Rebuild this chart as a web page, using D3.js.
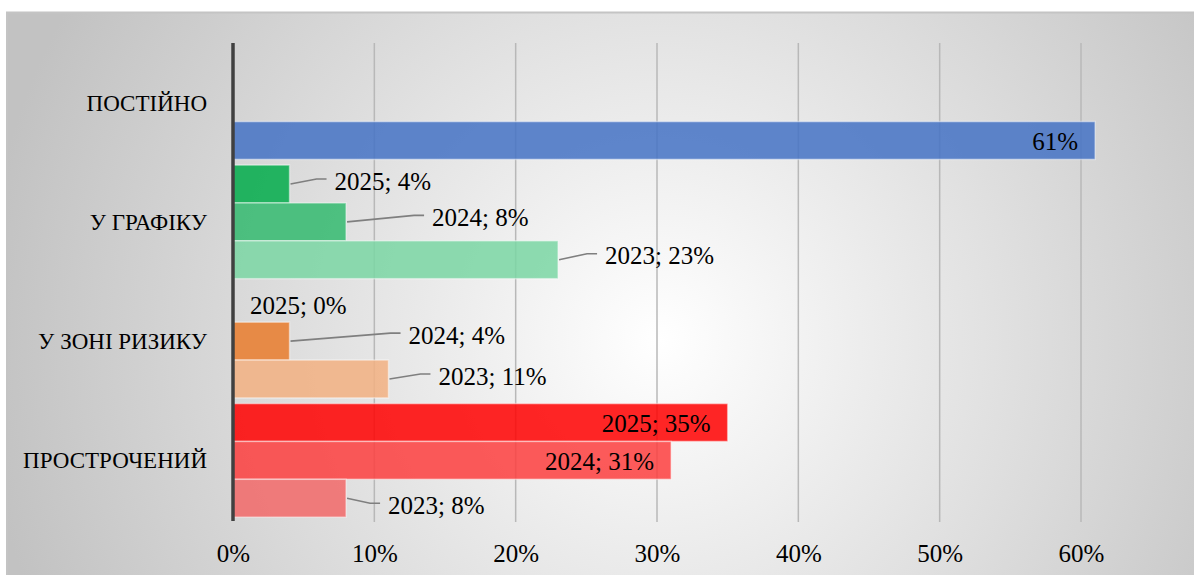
<!DOCTYPE html>
<html>
<head>
<meta charset="utf-8">
<script src="https://cdn.jsdelivr.net/npm/d3@7"></script>
<style>
  body { margin: 0; background: #fff; }
  svg text { font-family: "Liberation Serif", "DejaVu Serif", serif; fill: #000; }
</style>
</head>
<body>
<svg width="1194" height="575"></svg>
<script>
// categories top to bottom, and the years inside each category (top to bottom)
var categories = ["ПОСТІЙНО", "У ГРАФІКУ", "У ЗОНІ РИЗИКУ", "ПРОСТРОЧЕНИЙ"];
var years = ["2025", "2024", "2023"];

// values in percent, one array per year, same order as categories (null = no bar)
var values2025 = [null, 4, 0, 35];
var values2024 = [null, 8, 4, 31];
var values2023 = [61, 23, 11, 8];

var tickValues = [0, 10, 20, 30, 40, 50, 60];

let svg = d3.select("svg");

// bar colours (drawn with 15% transparency like the original)
var colors = {
  "ПОСТІЙНО|2023": "#4472c4",
  "У ГРАФІКУ|2025": "#01ab4a",
  "У ГРАФІКУ|2024": "#33ba6e",
  "У ГРАФІКУ|2023": "#7ad6a3",
  "У ЗОНІ РИЗИКУ|2024": "#e97b2c",
  "У ЗОНІ РИЗИКУ|2023": "#f2b081",
  "ПРОСТРОЧЕНИЙ|2025": "#ff0000",
  "ПРОСТРОЧЕНИЙ|2024": "#fd3e3e",
  "ПРОСТРОЧЕНИЙ|2023": "#f26868"
};

// label placement: "in" = inside end, otherwise [dx, dy] from the bar end
var labelNudge = {
  "ПОСТІЙНО|2023": "in",
  "У ГРАФІКУ|2025": [45, -3],
  "У ГРАФІКУ|2024": [86, -4.5],
  "У ГРАФІКУ|2023": [47, -4],
  "У ЗОНІ РИЗИКУ|2025": [17, 2],
  "У ЗОНІ РИЗИКУ|2024": [119, -6],
  "У ЗОНІ РИЗИКУ|2023": [50, -3],
  "ПРОСТРОЧЕНИЙ|2025": "in",
  "ПРОСТРОЧЕНИЙ|2024": "in",
  "ПРОСТРОЧЕНИЙ|2023": [42, 7]
};

// flat rows built from the arrays
var series = { "2025": values2025, "2024": values2024, "2023": values2023 };
var rows = [];
categories.forEach(function (c, i) {
  years.forEach(function (y) {
    var v = series[y][i];
    if (v !== null) rows.push({ cat: c, year: y, value: v, key: c + "|" + y });
  });
});

// background frame with radial gradient
var defs = svg.append("defs");
var grad = defs.append("radialGradient")
  .attr("id", "bg")
  .attr("gradientUnits", "userSpaceOnUse")
  .attr("cx", 660).attr("cy", 340).attr("r", 680);
grad.append("stop").attr("offset", "0%").attr("stop-color", "#ffffff");
grad.append("stop").attr("offset", "100%").attr("stop-color", "#c2c2c2");

svg.append("rect")
  .attr("x", 7).attr("y", 12.5)
  .attr("width", 1200).attr("height", 600)
  .attr("fill", "url(#bg)")
  .attr("stroke", "#c4c4c4")
  .attr("stroke-width", 2);

// scales
var x = d3.scaleLinear().domain([0, 60]).range([233, 1081]);
var yCat = d3.scaleBand().domain(categories).range([43, 520]).padding(0);
var yYear = d3.scaleBand().domain(years).range([0, yCat.bandwidth()])
  .paddingInner(0).paddingOuter(0.075);

// gridlines
svg.append("g")
  .selectAll("line")
  .data(tickValues.filter(function (t) { return t > 0; }))
  .enter()
  .append("line")
  .attr("x1", function (d) { return x(d); })
  .attr("x2", function (d) { return x(d); })
  .attr("y1", 43).attr("y2", 522)
  .attr("stroke", "#b8b8b8")
  .attr("stroke-width", 1.5);

// x axis tick labels
var xAxis = d3.axisBottom(x)
  .tickValues(tickValues)
  .tickFormat(function (d) { return d + "%"; })
  .tickSize(0).tickPadding(0);
var gx = svg.append("g").attr("transform", "translate(0,553)").call(xAxis);
gx.select(".domain").remove();
gx.selectAll("text")
  .attr("dy", "0.35em")
  .style("font-size", "25px")
  .style("font-family", "Liberation Serif, serif");

// bars
svg.append("g")
  .selectAll("rect")
  .data(rows.filter(function (d) { return d.value > 0; }))
  .enter()
  .append("rect")
  .attr("x", x(0))
  .attr("y", function (d) { return yCat(d.cat) + yYear(d.year); })
  .attr("width", function (d) { return x(d.value) - x(0); })
  .attr("height", yYear.bandwidth())
  .attr("fill", function (d) { return colors[d.key]; })
  .attr("fill-opacity", 0.85)
  .attr("stroke", "#ffffff")
  .attr("stroke-opacity", 0.45)
  .attr("stroke-width", 1.5);

// vertical category axis line
svg.append("line")
  .attr("x1", 233).attr("x2", 233)
  .attr("y1", 43).attr("y2", 521)
  .attr("stroke", "#404040")
  .attr("stroke-width", 3.5);

// category labels
var yAxis = d3.axisLeft(yCat).tickSize(0).tickPadding(0);
var gy = svg.append("g").attr("transform", "translate(207,0)").call(yAxis);
gy.select(".domain").remove();
gy.selectAll("text")
  .attr("dy", "0.35em")
  .style("font-size", "23px")
  .style("font-family", "Liberation Serif, serif");

// data labels and leader lines
var lbl = svg.append("g");
rows.forEach(function (d) {
  var nudge = labelNudge[d.key];
  var cy = yCat(d.cat) + yYear(d.year) + yYear.bandwidth() / 2;
  var xe = x(d.value);
  var txt = d.cat === "ПОСТІЙНО" ? d.value + "%" : d.year + "; " + d.value + "%";
  if (nudge === "in") {
    lbl.append("text")
      .attr("x", xe - 17).attr("y", cy + 1)
      .attr("text-anchor", "end")
      .attr("dy", "0.35em")
      .style("font-size", "25px")
      .text(txt);
    return;
  }
  var tx = xe + nudge[0], ty = cy + nudge[1];
  if (d.value > 0) {
    lbl.append("path")
      .attr("d", "M" + (xe + 1) + "," + cy + "L" + (tx - 18) + "," + (ty - 2) + "H" + (tx - 8))
      .attr("fill", "none")
      .attr("stroke", "#7f7f7f")
      .attr("stroke-width", 1.6);
  }
  lbl.append("text")
    .attr("x", tx).attr("y", ty)
    .attr("dy", "0.35em")
    .style("font-size", "25px")
    .text(txt);
});
</script>
</body>
</html>
